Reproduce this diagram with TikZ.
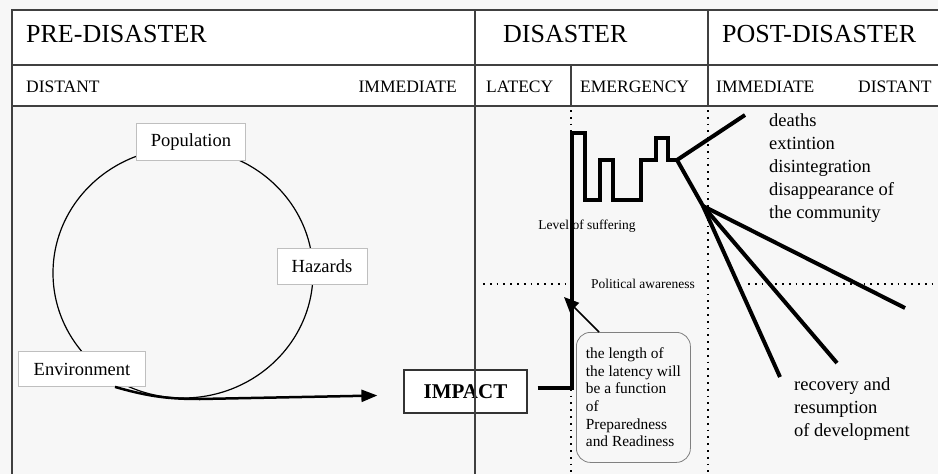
\documentclass[tikz,border=0pt]{standalone}
\usepackage{fontspec}
\setmainfont{Liberation Serif}
\usetikzlibrary{arrows.meta}
\begin{document}
\begin{tikzpicture}[x=1pt, y=-1pt,
   frame/.style={draw=black!75, line width=1.2pt},
   hdr/.style={inner sep=0pt, font=\fontsize{26}{30}\selectfont},
   subhdr/.style={inner sep=0pt, font=\fontsize{17.5}{20}\selectfont},
   tag/.style={draw=black!25, fill=white, line width=0.8pt, inner sep=0pt, font=\fontsize{18.5}{22}\selectfont},
   dots/.style={line width=1.8pt, dash pattern=on 1.8pt off 5pt},
   thk/.style={line width=4pt},
   smalltext/.style={inner sep=0pt, font=\fontsize{13.5}{16}\selectfont},
   bigtext/.style={inner sep=0pt, align=left, font=\fontsize{18.5}{23}\selectfont}]
   \useasboundingbox (0,0) rectangle (938,474);
   \fill[black!3] (0,0) rectangle (938,474);
   \fill[white] (12,10) rectangle (938,106);

   \draw[line width=1.2pt] (183,273) ellipse [x radius=130, y radius=125];
   \node[tag, minimum width=109, minimum height=37] (pop) at (191,142) {Population};
   \node[tag, minimum width=90, minimum height=36] (haz) at (322,266) {Hazards};
   \node[tag, minimum width=127, minimum height=35] (env) at (82,369) {Environment};
   \node[draw=black!80, fill=white, line width=1.2pt, minimum width=123, minimum height=43, inner sep=0pt,
      font=\bfseries\fontsize{21}{24}\selectfont] (imp) at (465.5,391.5) {IMPACT};
   \draw[line width=2.5pt, -{Triangle[length=16pt, width=12pt]}, shorten >=26pt]
      ([xshift=33pt]env.south) .. controls (150,397) and (170,399) .. (200,399) -- (imp.west |- 0,395);

   \draw[frame] (12,474) -- (12,10) -- (938,10);
   \draw[frame] (12,65) -- (938,65);
   \draw[frame] (12,106) -- (938,106);
   \draw[frame] (475,10) -- (475,474);
   \draw[frame] (708,10) -- (708,106);
   \draw[frame] (571,65) -- (571,106);
   \draw[dots] (571,110) -- (571,474);
   \draw[dots] (708,110) -- (708,474);
   \draw[dots] (483,284) -- (566,284);
   \draw[dots] (748,284) -- (938,284);

   \node[hdr, anchor=base west] (pre) at (26,42) {PRE-DISASTER};
   \node[hdr, anchor=base west] (dis) at (503,42) {DISASTER};
   \node[hdr, anchor=base west] (post) at (722,42) {POST-DISASTER};
   \node[subhdr, anchor=base west] (predist) at (26,92) {DISTANT};
   \node[subhdr, anchor=base east] (preimm) at (457,92) {IMMEDIATE};
   \node[subhdr, anchor=base west] (lat) at (486,92) {LATECY};
   \node[subhdr, anchor=base west] (emg) at (580,92) {EMERGENCY};
   \node[subhdr, anchor=base west] (postimm) at (716,92) {IMMEDIATE};
   \node[subhdr, anchor=base west] (postdist) at (858,92) {DISTANT};

   \node[smalltext] (suf) at (587,226) {Level of suffering};
   \node[smalltext] (pol) at (643,284) {Political awareness};

   \draw[thk] ([xshift=10pt, yshift=3.5pt]imp.east) -| (572,133) -- (585,133) -- (585,200) -- (600,200)
      -- (600,160) -- (613,160) -- (613,200) -- (641,200) -- (641,160) -- (656,160) -- (656,138)
      -- (668,138) -- (668,160) -- (677,160) coordinate (f1);
   \coordinate (d1) at (745,115);
   \coordinate (f2) at (703,206);
   \coordinate (r1) at (780,377);
   \coordinate (r2) at (837,363);
   \coordinate (r3) at (905,308);
   \draw[thk] (f1) -- (d1);
   \draw[thk] (f1) -- (f2);
   \foreach \e in {r1,r2,r3}
      \draw[thk] (f2) -- (\e);

   \node[bigtext, anchor=north west] (fate) at (769,113)
      {deaths\\extintion\\disintegration\\disappearance of\\the community};
   \node[bigtext, anchor=north west] (rec) at (794,377)
      {recovery and\\resumption\\of development};

   \node[draw=black!50, line width=0.8pt, rounded corners=14pt, anchor=north west, minimum width=114,
      minimum height=130, inner xsep=0pt, align=left, font=\fontsize{15.4}{17.6}\selectfont] (note)
      at (576,332) {the length of\\the latency will\\be a function\\of\\Preparedness\\and Readiness};
   \coordinate (tip) at (564,297);
   \draw[line width=1.5pt, -{Triangle[length=15pt, width=13pt]}] ([xshift=23pt]note.north west) -- (tip);
\end{tikzpicture}
\end{document}
